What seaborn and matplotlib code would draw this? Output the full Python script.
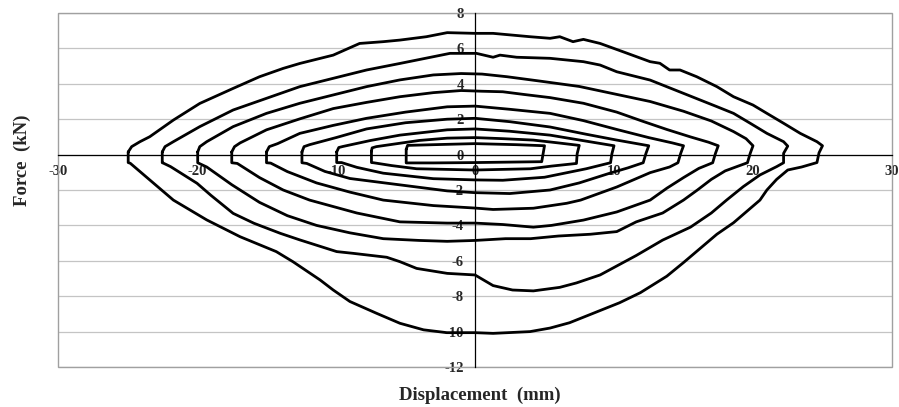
import numpy as np
import pandas as pd
import matplotlib
matplotlib.use("Agg")
import matplotlib.pyplot as plt
import seaborn as sns
from matplotlib.patches import Rectangle

# ---------------- data ----------------
loop_amplitudes = [5, 7.5, 10, 12.5, 15, 17.5, 20, 22.5, 25]

disp_5 = [-4.95, -4.85, -3.0, 0.0, 3.0, 5.0, 4.9, 4.8, 0.0, -3.0, -4.95, -4.95]
force_5 = [0.30, 0.52, 0.56, 0.62, 0.56, 0.50, 0.05, -0.40, -0.45, -0.47, -0.47, 0.30]

disp_7_5 = [-7.45, -7.4, -7.1, -4.0, -2.0, 0.0, 2.0, 4.2, 6.0, 7.5, 7.35, 7.3,
            5.5, 4.0, 0.0, -4.2, -6.0, -7.3, -7.45, -7.45]
force_7_5 = [0.20, 0.38, 0.45, 0.80, 0.93, 0.96, 0.90, 0.82, 0.66, 0.52, 0.05, -0.50,
             -0.65, -0.80, -0.87, -0.80, -0.62, -0.46, -0.45, 0.20]

disp_10 = [-9.95, -9.8, -9.5, -7.5, -5.4, -2.0, 0.0, 2.5, 5.4, 8.0, 10.0,
           9.85, 9.75, 8.0, 5.0, 2.0, 0.0, -3.0, -6.6, -8.5, -9.6, -9.95, -9.95]
force_10 = [0.15, 0.40, 0.46, 0.80, 1.10, 1.40, 1.45, 1.32, 1.10, 0.76, 0.50,
            0.05, -0.46, -0.80, -1.28, -1.45, -1.43, -1.36, -1.05, -0.72, -0.45, -0.45, 0.15]

disp_12_5 = [-12.45, -12.3, -11.9, -10.0, -7.8, -5.0, -2.0, 0.0, 2.5, 5.4, 8.0, 10.2, 12.5,
             12.3, 12.1, 11.0, 9.7, 7.5, 5.4, 2.5, 0.0, -2.0, -4.2, -6.5, -9.0, -10.8,
             -12.1, -12.45, -12.45]
force_12_5 = [0.15, 0.45, 0.56, 0.96, 1.45, 1.80, 2.00, 2.05, 1.86, 1.56, 1.15, 0.82, 0.50,
              0.07, -0.46, -0.75, -1.05, -1.60, -2.00, -2.20, -2.15, -2.05, -1.83, -1.60,
              -1.35, -0.95, -0.50, -0.46, 0.15]

disp_15 = [-15.0, -14.8, -14.2, -12.6, -10.2, -7.8, -5.0, -2.0, 0.0, 2.5, 5.4, 7.8,
           10.2, 12.5, 14.2, 15.0, 14.8, 14.6, 14.0, 12.6, 10.2, 7.6, 6.6, 4.2, 1.3,
           0.0, -3.0, -6.6, -9.0, -11.4, -13.5, -14.7, -15.0, -15.0]
force_15 = [0.15, 0.45, 0.62, 1.20, 1.65, 2.05, 2.40, 2.70, 2.74, 2.56, 2.33, 1.92,
            1.42, 0.96, 0.66, 0.50, 0.07, -0.46, -0.70, -1.02, -1.83, -2.57, -2.75, -3.03,
            -3.10, -3.02, -2.88, -2.57, -2.12, -1.60, -0.96, -0.48, -0.46, 0.15]

disp_17_5 = [-17.5, -17.3, -16.9, -15.0, -12.6, -10.2, -7.8, -5.4, -3.0, -1.0, 0.5,
             2.0, 3.5, 5.4, 7.8, 10.2, 12.0, 13.8, 15.5, 16.8, 17.5, 17.3, 17.1, 16.1,
             15.0, 13.8, 12.6, 10.2, 7.8, 5.5, 4.2, 2.0, 0.0, -2.0, -5.4, -8.5, -11.9,
             -13.8, -15.5, -17.1, -17.5, -17.5]
force_17_5 = [0.15, 0.45, 0.66, 1.40, 2.02, 2.60, 2.95, 3.27, 3.50, 3.62, 3.58,
              3.55, 3.40, 3.22, 2.90, 2.40, 1.90, 1.42, 1.00, 0.70, 0.50, 0.07, -0.46, -0.78,
              -1.30, -1.90, -2.57, -3.24, -3.70, -4.00, -4.10, -3.95, -3.87, -3.87, -3.80,
              -3.30, -2.57, -2.00, -1.30, -0.50, -0.46, 0.15]

disp_20 = [-19.95, -19.8, -19.3, -17.4, -15.0, -12.6, -10.2, -7.8, -5.4, -3.0, -1.0,
           0.5, 2.3, 4.7, 7.5, 10.2, 12.6, 15.0, 17.0, 18.6, 19.5, 20.0, 19.8, 19.6,
           18.9, 18.0, 17.0, 16.0, 15.0, 13.5, 11.6, 10.2, 8.3, 6.0, 4.0, 2.2, 0.0,
           -2.0, -4.0, -6.6, -9.0, -11.4, -13.5, -15.5, -17.5, -19.3, -19.95, -19.95]
force_20 = [0.15, 0.45, 0.73, 1.58, 2.33, 2.90, 3.37, 3.84, 4.22, 4.50, 4.58,
            4.55, 4.40, 4.15, 3.85, 3.40, 3.00, 2.45, 1.90, 1.30, 0.90, 0.50, 0.07, -0.46,
            -0.66, -0.92, -1.40, -2.00, -2.57, -3.30, -3.80, -4.35, -4.50, -4.60, -4.75,
            -4.75, -4.85, -4.90, -4.85, -4.75, -4.42, -4.00, -3.45, -2.70, -1.70, -0.70,
            -0.46, 0.15]

disp_22_5 = [-22.5, -22.3, -21.7, -19.8, -17.4, -15.0, -12.6, -10.2, -7.8, -5.4, -3.0,
             -1.8, 0.1, 1.3, 1.8, 3.0, 5.4, 7.8, 9.0, 10.2, 12.6, 15.0, 17.4, 18.6,
             19.8, 21.0, 22.2, 22.5, 22.2, 22.2, 21.7, 20.5, 19.3, 18.1, 17.0, 15.5,
             13.5, 11.6, 9.0, 7.3, 6.1, 4.2, 2.7, 1.3, 0.0, -2.0, -4.2, -5.4, -6.35,
             -8.75, -9.95, -12.6, -14.0, -15.9, -17.4, -19.0, -20.0, -21.9, -22.4,
             -22.5, -22.5]
force_22_5 = [0.15, 0.45, 0.73, 1.58, 2.52, 3.18, 3.84, 4.31, 4.78, 5.15, 5.53,
              5.72, 5.72, 5.50, 5.62, 5.50, 5.44, 5.25, 5.06, 4.68, 4.21, 3.46, 2.71, 2.33,
              1.77, 1.20, 0.73, 0.48, 0.07, -0.46, -0.68, -1.15, -1.81, -2.57, -3.30, -4.10,
              -4.83, -5.70, -6.80, -7.25, -7.50, -7.70, -7.65, -7.40, -6.80, -6.71, -6.43,
              -6.05, -5.80, -5.58, -5.48, -4.82, -4.45, -3.88, -3.32, -2.30, -1.62, -0.68,
              -0.49, -0.46, 0.15]

disp_25 = [-24.95, -24.7, -24.1, -23.4, -21.7, -19.8, -17.4, -15.5, -13.8, -12.6, -10.2,
           -8.3, -6.6, -5.4, -3.5, -2.0, 0.0, 1.3, 3.96, 5.4, 6.1, 7.05, 7.8, 9.0, 10.65,
           12.6, 13.3, 14.0, 14.75, 15.95, 17.4, 18.6, 20.0, 21.0, 22.2, 23.4, 24.6, 25.0,
           24.75, 24.6, 23.5, 22.5, 21.7, 21.0, 20.5, 18.6, 17.4, 15.0, 13.8, 11.9, 10.4,
           8.3, 6.8, 5.4, 3.96, 1.3, 0.0, -2.03, -3.7, -5.4, -7.07, -9.0, -10.2, -11.15,
           -13.1, -14.3, -16.9, -19.3, -21.7, -23.4, -24.8, -24.95, -24.95]
force_25 = [0.15, 0.45, 0.73, 1.01, 1.95, 2.89, 3.74, 4.40, 4.87, 5.15, 5.62,
            6.28, 6.38, 6.47, 6.66, 6.89, 6.85, 6.85, 6.66, 6.57, 6.66, 6.38, 6.51, 6.28, 5.81,
            5.25, 5.16, 4.78, 4.78, 4.40, 3.84, 3.27, 2.80, 2.33, 1.77, 1.20, 0.73, 0.50,
            0.10, -0.45, -0.70, -0.87, -1.40, -2.00, -2.57, -3.85, -4.50, -6.10, -6.87, -7.80,
            -8.37, -9.03, -9.50, -9.80, -10.00, -10.10, -10.06, -10.06, -9.90, -9.53, -8.97,
            -8.30, -7.65, -7.08, -6.05, -5.48, -4.64, -3.69, -2.57, -1.43, -0.49, -0.45, 0.15]

x_ticks = [-30, -20, -10, 0, 10, 20, 30]
y_ticks = [-12, -10, -8, -6, -4, -2, 0, 2, 4, 6, 8]
x_label = "Displacement  (mm)"
y_label = "Force  (kN)"

loops_disp = [disp_5, disp_7_5, disp_10, disp_12_5, disp_15, disp_17_5, disp_20, disp_22_5, disp_25]
loops_force = [force_5, force_7_5, force_10, force_12_5, force_15, force_17_5, force_20, force_22_5, force_25]

rows = []
for amp, dx, fy in zip(loop_amplitudes, loops_disp, loops_force):
    for i, (a, b) in enumerate(zip(dx, fy)):
        rows.append({"loop": amp, "order": i, "disp": a, "force": b})
df = pd.DataFrame(rows)

# ---------------- style ----------------
sns.set_style("white")
plt.rcParams["font.family"] = ["Liberation Serif", "DejaVu Serif"]
plt.rcParams["font.weight"] = "bold"

W, H = 899, 407
fig = plt.figure(figsize=(W / 100, H / 100), dpi=100)
L, R, T, B = 58, 892, 13, 367
ax = fig.add_axes([L / W, 1 - B / H, (R - L) / W, (B - T) / H])

ax.set_xlim(-30, 30)
ax.set_ylim(-12, 8)

# horizontal grid
for yv in y_ticks:
    ax.axhline(yv, color="#c4c4c4", lw=0.9, zorder=0)

sns.lineplot(data=df, x="disp", y="force", units="loop", estimator=None,
             sort=False, color="black", lw=2.0, ax=ax, legend=False, zorder=3)

# axes through origin
for side in ["top", "right"]:
    ax.spines[side].set_visible(False)
ax.spines["left"].set_position(("data", 0))
ax.spines["bottom"].set_position(("data", 0))
ax.spines["left"].set_color("black")
ax.spines["bottom"].set_color("black")
ax.spines["left"].set_linewidth(0.9)
ax.spines["bottom"].set_linewidth(0.9)
ax.spines["left"].set_zorder(2)
ax.spines["bottom"].set_zorder(2)

# plot-area border
ax.add_patch(Rectangle((0, 0), 1, 1, transform=ax.transAxes, fill=False,
                       edgecolor="#a0a0a0", lw=1.0, zorder=1, clip_on=False))

ax.set_xticks(x_ticks)
ax.set_yticks(y_ticks)
ax.set_xticklabels([str(v) for v in x_ticks])
ax.set_yticklabels([str(v) for v in y_ticks])
ax.tick_params(axis="y", direction="out", length=3, width=0.9, pad=5,
               labelsize=10.5, color="black")
ax.tick_params(axis="x", direction="out", length=0, width=0.9, pad=7.5,
               labelsize=10.5, color="black")
for lab in ax.get_xticklabels() + ax.get_yticklabels():
    lab.set_fontweight("bold")
ax.set_xlabel("")
ax.set_ylabel("")

fig.text(22 / W, 1 - 160 / H, y_label, rotation=90, ha="center", va="center",
         fontsize=13.5, fontweight="bold")
fig.text(480 / W, 1 - 395 / H, x_label, ha="center", va="center",
         fontsize=13.5, fontweight="bold")

fig.savefig("out.png", dpi=100, facecolor="white")
